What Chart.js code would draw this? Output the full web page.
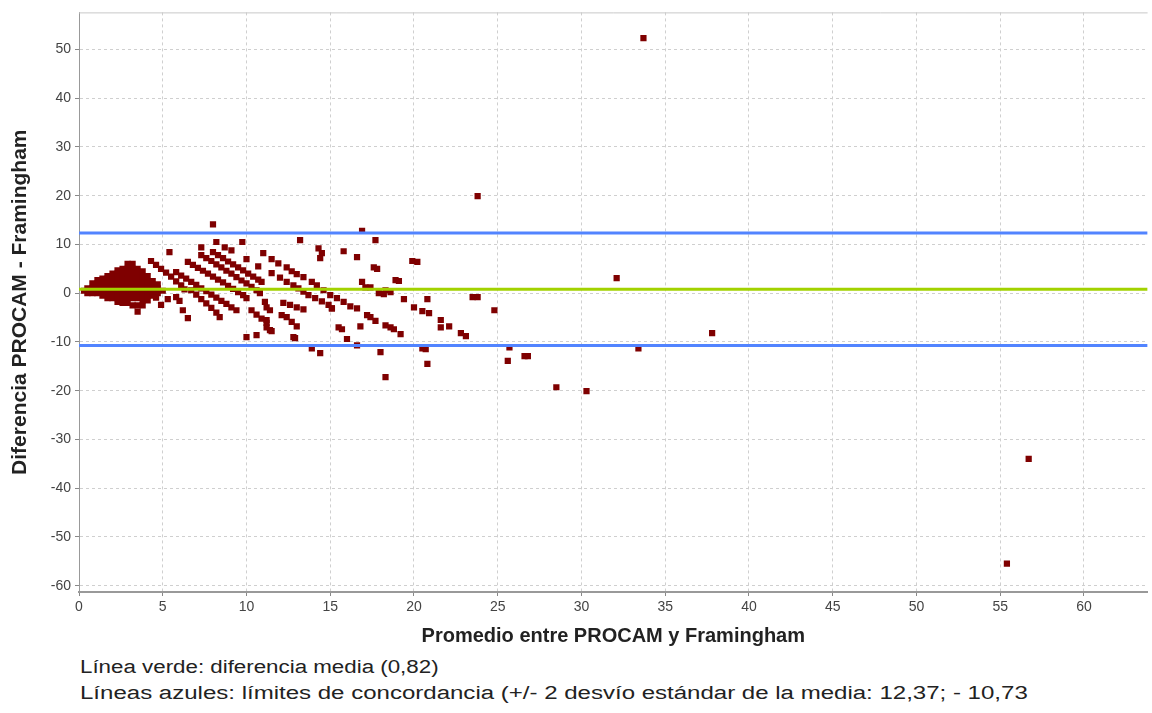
<!DOCTYPE html>
<html>
<head>
<meta charset="utf-8">
<script src="https://cdn.jsdelivr.net/npm/chart.js@4.4.1/dist/chart.umd.min.js"></script>
<style>
  body { margin: 0; background: #fff; width: 1152px; height: 713px; overflow: hidden; }
  #wrap { position: absolute; left: 0; top: 0; width: 1152px; height: 652px; }
  .foot { position: absolute; left: 80px; font-family: "Liberation Sans", Arial, sans-serif; font-size: 18px; color: #222; white-space: nowrap; transform-origin: left center; }
</style>
</head>
<body>
<div id="wrap"><canvas id="bland"></canvas></div>
<div class="foot" style="top:657px; transform: scaleX(1.24)">Línea verde: diferencia media (0,82)</div>
<div class="foot" style="top:683px; transform: scaleX(1.335)">Líneas azules: límites de concordancia (+/- 2 desvío estándar de la media: 12,37; - 10,73</div>
<script>
// reference lines
const meanDiff = 0.82;
const upperLimit = 12.37;
const lowerLimit = -10.73;

const xTicks = [0, 5, 10, 15, 20, 25, 30, 35, 40, 45, 50, 55, 60];
const yTicks = [-60, -50, -40, -30, -20, -10, 0, 10, 20, 30, 40, 50];
const xMin = 0, xMax = 63.8;
const yMin = -61.3, yMax = 57.6;

// [promedio, diferencia] - dense block of low values
const lowCluster = [
  [0.3,0.5],[0.5,0],[0.5,1],[0.8,0],[0.8,1],[0.8,2],
  [1.1,0],[1.1,1],[1.1,2],[1.1,2.7],
  [1.4,-0.5],[1.4,0.5],[1.4,1.5],[1.4,2.5],[1.4,3],
  [1.7,-1],[1.7,0],[1.7,1],[1.7,2],[1.7,3],[1.7,3.5],
  [2.0,-1],[2.0,0],[2.0,1],[2.0,2],[2.0,3],[2.0,4],
  [2.3,-1.8],[2.3,-1],[2.3,0],[2.3,1],[2.3,2],[2.3,3],[2.3,4],[2.3,4.7],
  [2.6,-2],[2.6,-1],[2.6,0],[2.6,1],[2.6,2],[2.6,3],[2.6,4],[2.6,5],
  [2.9,-2],[2.9,-1],[2.9,0],[2.9,1],[2.9,2],[2.9,3],[2.9,4],[2.9,5],[2.9,6],
  [3.2,-2.5],[3.2,-1],[3.2,0],[3.2,1],[3.2,2],[3.2,3],[3.2,4],[3.2,5],[3.2,6],
  [3.5,-3.8],[3.5,-2.5],[3.5,-1],[3.5,0],[3.5,1],[3.5,2],[3.5,3],[3.5,4],[3.5,5],
  [3.8,-2.5],[3.8,-1.5],[3.8,-0.5],[3.8,0.5],[3.8,1.5],[3.8,2.5],[3.8,3.5],[3.8,4.5],
  [4.1,-1.5],[4.1,-0.5],[4.1,0.5],[4.1,1.5],[4.1,2.5],[4.1,3.5],
  [4.4,-0.5],[4.4,0.5],[4.4,1.5],[4.4,2.5],
  [4.7,0],[4.7,1],[4.7,1.8],[5.0,0.5],
  [4.3,0.6],[4.6,-0.9],[4.9,-2.4],[5.3,-1.2],
  [4.3,6.6],[4.6,5.8],[4.9,5.0],[5.2,4.2],[5.5,3.4],[5.8,2.4],[6.1,1.6],[6.3,0.8],
  [5.4,8.4],[6.2,-3.5],[6.5,-5.1],[5.8,-0.8],[6.0,-1.6]
];

// diagonal rows between 6 and 17
const bands = [
  [6.5,6.4],[6.8,5.8],[7.1,5.2],[7.4,4.6],[7.7,4.0],[8.0,3.4],[8.3,2.8],[8.6,2.2],[8.9,1.5],[9.2,0.9],[9.5,0.2],[9.8,-0.4],[10.0,-1.0],
  [7.3,7.8],[7.6,7.2],[7.9,6.6],[8.2,5.9],[8.5,5.3],[8.8,4.6],[9.1,4.0],[9.4,3.3],[9.7,2.6],[10.0,2.0],[10.3,1.3],[10.6,0.6],
  [8.0,8.4],[8.3,7.8],[8.6,7.2],[8.9,6.5],[9.2,5.9],[9.5,5.3],[9.8,4.7],[10.1,4.0],[10.4,3.4],[10.7,2.8],[10.9,2.3],
  [5.8,4.3],[6.1,3.6],[6.4,3.0],[6.7,2.3],[7.0,1.7],[7.3,1.0],[7.6,0.4],[7.9,-0.3],[8.2,-0.9],[8.5,-1.6],[8.8,-2.2],[9.1,-2.9],[9.4,-3.5],
  [6.7,0.6],[7.0,-0.3],[7.3,-1.2],[7.6,-2.1],[7.9,-3.0],[8.2,-4.0],[8.4,-4.9],
  [11.5,7.0],[11.9,6.1],[12.4,5.3],[12.7,4.5],[13.0,3.9],[13.4,3.3],[13.9,2.3],[14.2,1.6],[14.6,0.6],[15.0,-0.4],[15.4,-1.0],[15.8,-1.8],[16.2,-2.7],[16.6,-3.1],
  [11.5,4.1],[12.0,3.2],[12.4,2.3],[12.8,1.6],[13.1,1.0],[13.4,0.3],[13.7,-0.4],[14.1,-1.0],[14.5,-1.7],[14.9,-2.4],[15.1,-3.1],
  [10.8,0],[11.1,-1.8],[11.2,-2.9],[11.4,-3.5],
  [12.2,-2.0],[12.6,-2.4],[13.0,-2.9],[13.4,-3.3],
  [12.1,-4.5],[12.4,-4.9],[12.7,-5.9],[13.0,-6.8],
  [10.3,-3.5],[10.6,-4.4],[10.9,-5.2],[11.2,-6.1],[11.4,-7.6],
  [11.2,-5.5],[11.2,-7.0],[11.5,-7.8],[12.8,-9.0]
];

// scattered points
const scattered = [
  [7.3,9.4],[8.2,10.5],[8.7,9.4],[9.1,8.8],[9.75,10.5],[8.0,14.1],[10.0,7.0],[10.7,5.5],[11.0,8.2],
  [10.0,-9.0],[10.6,-8.6],
  [16.9,12.8],[17.7,10.9],[13.2,10.9],[14.3,9.2],[14.5,8.2],[14.4,7.2],[15.8,8.6],[16.6,7.4],[17.6,5.3],[17.8,5.0],
  [19.9,6.6],[20.2,6.4],[16.9,2.3],[18.9,2.7],[19.1,2.5],[17.1,1.2],[17.4,1.2],[17.9,0],[18.2,-0.2],[18.6,0.2],[18.3,0.6],
  [19.4,-1.2],[20.8,-1.2],[20.0,-2.9],[20.5,-3.7],[20.9,-4.1],[21.6,-5.5],[21.6,-7.0],[22.1,-6.8],[22.8,-8.2],[23.1,-8.8],
  [15.1,-3.1],[15.5,-7.0],[15.7,-7.4],[16.0,-9.4],[16.6,-10.7],[13.9,-11.3],[14.4,-12.3],[18.0,-12.1],[18.3,-17.2],
  [16.8,-6.8],[17.2,-4.5],[17.4,-4.9],[17.7,-5.7],[18.3,-6.6],[18.6,-7.0],[18.8,-7.4],[19.2,-8.4],[12.9,-9.2],
  [20.5,-11.3],[20.7,-11.5],[20.8,-14.5]
];

const outliers = [
  [23.5,-0.8],[23.8,-0.8],[24.8,-3.5],[23.8,19.9],[25.7,-11.1],[25.6,-13.9],[26.6,-12.9],[26.8,-12.9],
  [28.5,-19.3],[30.3,-20.1],[32.1,3.1],[33.4,-11.3],[33.7,52.3],[37.8,-8.2],[55.4,-55.5],[56.7,-34.0]
];

const allPoints = lowCluster.concat(bands, scattered, outliers).map(p => ({x: p[0], y: p[1]}));

function hLine(v) {
  return [{x: xMin, y: v}, {x: xMax, y: v}];
}

const framePlugin = {
  id: 'frame',
  beforeDatasetsDraw(chart) {
    const a = chart.chartArea, ctx = chart.ctx;
    ctx.save();
    ctx.strokeStyle = '#c8c8c8';
    ctx.lineWidth = 1;
    ctx.beginPath();
    ctx.moveTo(a.left, a.top + 0.5);
    ctx.lineTo(a.right, a.top + 0.5);
    ctx.stroke();
    ctx.restore();
  }
};

new Chart("bland", {
  type: 'scatter',
  data: {
    datasets: [
      { data: hLine(upperLimit), showLine: true, borderColor: '#5284ff', borderWidth: 3, pointRadius: 0 },
      { data: hLine(lowerLimit), showLine: true, borderColor: '#5284ff', borderWidth: 3, pointRadius: 0 },
      { data: hLine(meanDiff), showLine: true, borderColor: '#a2d200', borderWidth: 3, pointRadius: 0 },
      { data: allPoints, pointStyle: 'rect', pointRadius: 4.4, backgroundColor: '#7f0000', borderWidth: 0 }
    ]
  },
  options: {
    responsive: true,
    maintainAspectRatio: false,
    animation: false,
    layout: { padding: { top: 12, right: 0, left: 4, bottom: 0 } },
    plugins: { legend: { display: false }, tooltip: { enabled: false } },
    scales: {
      x: {
        type: 'linear', min: xMin, max: xMax,
        afterBuildTicks: s => { s.ticks = xTicks.map(v => ({value: v})); },
        afterFit: s => { s.height = 60; },
        ticks: { color: '#444', font: { family: 'Liberation Sans', size: 14 }, padding: 3, maxRotation: 0 },
        grid: { color: '#cfcfcf', tickColor: '#888', tickLength: 4, tickBorderDash: [] },
        border: { color: '#999', width: 2, dash: [3, 3] },
        title: { display: true, text: 'Promedio entre PROCAM y Framingham', color: '#222',
                 font: { family: 'Liberation Sans', size: 20, weight: 'bold' }, padding: { top: 3 } }
      },
      y: {
        type: 'linear', min: yMin, max: yMax,
        afterBuildTicks: s => { s.ticks = yTicks.map(v => ({value: v})); },
        afterFit: s => { s.width = 75; },
        ticks: { color: '#444', font: { family: 'Liberation Sans', size: 14 }, padding: 4 },
        grid: { color: '#cfcfcf', tickColor: '#888', tickLength: 4, tickBorderDash: [] },
        border: { color: '#999', width: 1, dash: [3, 3] },
        title: { display: true, text: 'Diferencia PROCAM - Framingham', color: '#222',
                 font: { family: 'Liberation Sans', size: 21, weight: 'bold' }, padding: { bottom: 2 } }
      }
    }
  },
  plugins: [framePlugin]
});
</script>
</body>
</html>
